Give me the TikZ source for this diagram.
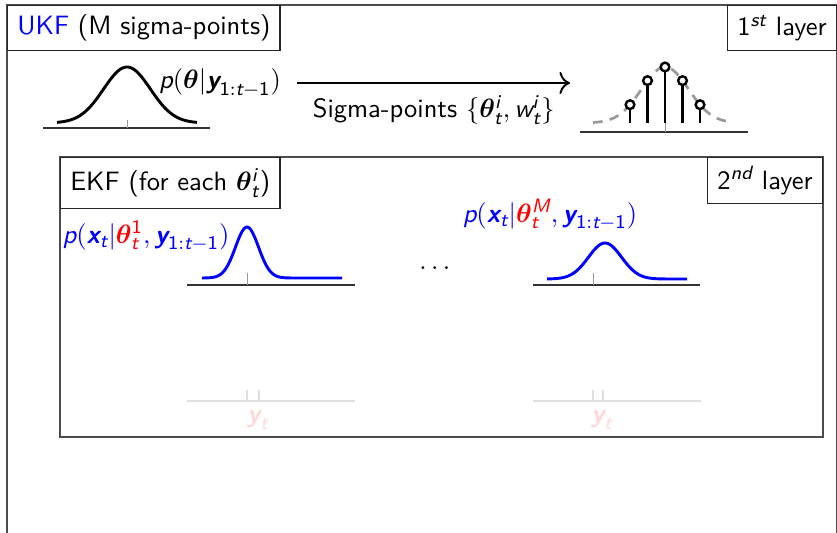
\documentclass[11pt,tikz,border=0pt]{standalone}
\usepackage{amsmath,bm}
\usetikzlibrary{arrows.meta,positioning,calc}

\renewcommand{\familydefault}{\sfdefault}
% sans serif letters in math, as on the slide
\DeclareSymbolFont{sfletters}{TU}{lmss}{m}{sl}
\SetSymbolFont{sfletters}{bold}{TU}{lmss}{bx}{sl}
\DeclareSymbolFont{sfdigits}{TU}{lmss}{m}{n}
\SetSymbolFont{sfdigits}{bold}{TU}{lmss}{bx}{n}
\DeclareMathSymbol{p}{\mathalpha}{sfletters}{`p}
\DeclareMathSymbol{x}{\mathalpha}{sfletters}{`x}
\DeclareMathSymbol{y}{\mathalpha}{sfletters}{`y}
\DeclareMathSymbol{t}{\mathalpha}{sfletters}{`t}
\DeclareMathSymbol{w}{\mathalpha}{sfletters}{`w}
\DeclareMathSymbol{i}{\mathalpha}{sfletters}{`i}
\DeclareMathSymbol{s}{\mathalpha}{sfletters}{`s}
\DeclareMathSymbol{n}{\mathalpha}{sfletters}{`n}
\DeclareMathSymbol{d}{\mathalpha}{sfletters}{`d}
\DeclareMathSymbol{M}{\mathalpha}{sfletters}{`M}
\DeclareMathSymbol{1}{\mathalpha}{sfdigits}{`1}
\DeclareMathSymbol{2}{\mathalpha}{sfdigits}{`2}

\begin{document}
\begin{tikzpicture}[
		x=0.413pt, y=-0.413pt,
		frame/.style={draw=black!70, line width=0.8pt},
		layerbox/.style={draw=black!85, line width=0.6pt, inner xsep=4pt, inner ysep=2pt},
		axis/.style={black!80, line width=0.5pt},
		meanmark/.style={black!40, line width=0.4pt},
		prior/.style={black, line width=1.2pt},
		sigpdf/.style={black!40, line width=1.1pt, dash pattern=on 4pt off 3pt},
		stem/.style={black, line width=1pt},
		ekfpdf/.style={blue, line width=1.2pt},
		faded/.style={black!12, line width=0.5pt},
		flow/.style={->, >={To[scale=1.3]}, black, line width=0.8pt}
		]
		
		\useasboundingbox (0,0) rectangle (837,533);
		
		% First layer: UKF over the parameters
		\draw[frame] (7,5) rectangle (837,640);
		\node[layerbox, anchor=north west, minimum height=18.6pt] (ukf) at (7,5) {\textcolor{blue}{UKF} (M sigma-points)};
		\node[layerbox, anchor=north east, minimum height=18.6pt] (layer1) at (837,5) {$1^{st}$ layer};
		
		% prior of theta
		\draw[axis] (43,128) -- (210,128);
		\draw[meanmark] (127,120) -- (127,128);
		\draw[prior] plot[domain=57:197, samples=70, smooth] (\x, {123-56*exp(-(\x-127)^2/1095)});
		\node (prior) at (220,83) {$p(\bm{\theta}|\bm{y}_{1:t-1})$};
		
		% sigma points
		\coordinate (sigin) at (570,83);
		\draw[flow] ([xshift=3pt]prior.east) -- (sigin) node[midway, below=1pt] (siglabel) {Sigma-points $\{\bm{\theta}_t^i, w_t^i\}$};
		\draw[axis] (580,132) -- (748,132);
		\draw[meanmark] (665,123) -- (665,132);
		\draw[sigpdf] plot[domain=593:733, samples=70, smooth] (\x, {123-56*exp(-(\x-665)^2/1095)});
		\foreach \dx in {-35,-17.5,0,17.5,35} {
			\pgfmathsetmacro\sy{123-56*exp(-(\dx)^2/1095)}
			\draw[stem] (665+\dx,123) -- (665+\dx,\sy+4.4);
			\draw[stem, fill=white] (665+\dx,\sy) circle[radius=1.8pt];
		}
		
		% Second layer: one EKF per sigma point
		\draw[frame] (60,157) rectangle (823,437);
		\node[layerbox, anchor=north west, minimum height=21pt] (ekf) at (60,157) {EKF (for each $\bm{\theta}_t^i$)};
		\node[layerbox, anchor=north east, minimum height=19pt] (layer2) at (823,157) {$2^{nd}$ layer};
		
		\draw[axis] (187,285) -- (355,285);
		\draw[meanmark] (247,273) -- (247,285);
		\draw[ekfpdf] plot[domain=202:342, samples=90, smooth] (\x, {278-51*exp(-(\x-247)^2/265)});
		\node[text=blue] (pred1) at (146,236) {$p(\bm{x}_t|\textcolor{red}{\bm{\theta}_t^1},\bm{y}_{1:t-1})$};
		
		\node (dots) at (437,268) {$\dots$};
		
		\draw[axis] (533,285) -- (700,285);
		\draw[meanmark] (593,273) -- (593,285);
		\draw[ekfpdf] plot[domain=547:687, samples=90, smooth] (\x, {279-36*exp(-(\x-605)^2/545)});
		\node[text=blue] (predM) at (550,215) {$p(\bm{x}_t|\textcolor{red}{\bm{\theta}_t^M},\bm{y}_{1:t-1})$};
		
		% observations, not shown yet
		\foreach \ax/\mx/\ox in {187/247/259, 533/593/603} {
			\draw[faded] (\ax,401) -- (\ax+168,401);
			\draw[faded] (\mx,390) -- (\mx,401);
			\draw[faded] (\ox,390) -- (\ox,401);
			\node[text=red!15] (obs\mx) at (\ox-1,420) {$\bm{y}_t$};
		}
		
	\end{tikzpicture}
\end{document}
